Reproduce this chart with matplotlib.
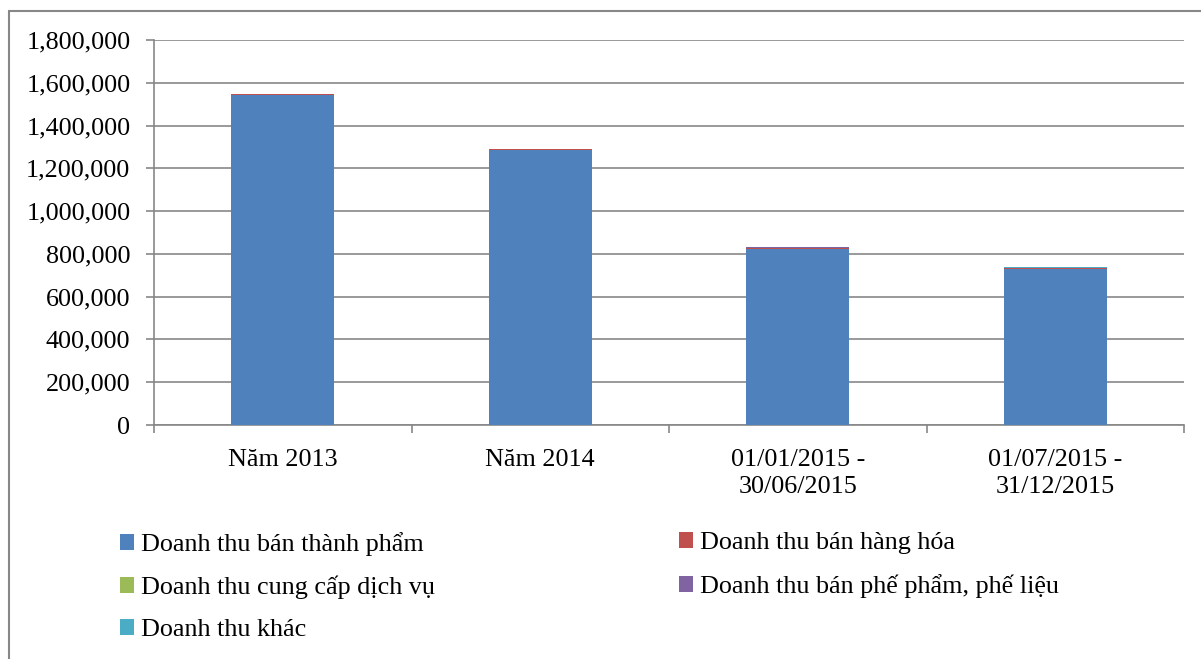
import matplotlib
matplotlib.use("Agg")
import matplotlib.pyplot as plt
import numpy as np
from matplotlib.patches import Patch, Rectangle
from matplotlib.ticker import FuncFormatter, FixedLocator

plt.rcParams['font.family'] = ['Liberation Serif', 'DejaVu Serif']

# data
categories = ["Năm 2013", "Năm 2014", "01/01/2015 -\n30/06/2015", "01/07/2015 -\n31/12/2015"]
series_names = ["Doanh thu bán thành phẩm", "Doanh thu bán hàng hóa",
                "Doanh thu cung cấp dịch vụ", "Doanh thu bán phế phẩm, phế liệu",
                "Doanh thu khác"]
thanh_pham = [1543000, 1286000, 824000, 731000]
hang_hoa = [4000, 3000, 2000, 2000]
dich_vu = [2000, 2000, 0, 0]
phe_pham = [0, 0, 4000, 1000]
khac = [0, 0, 0, 3000]
colors = ["#4F81BD", "#C0504D", "#9BBB59", "#8064A2", "#4BACC6"]

W, H = 1201, 659
fig = plt.figure(figsize=(W / 100, H / 100), dpi=100)
ax = fig.add_axes([154 / W, 1 - 425 / H, (1184 - 154) / W, (425 - 40) / H])

x = np.arange(len(categories))
bottom = np.zeros(len(categories))
handles = []
for vals, name, c in zip([thanh_pham, hang_hoa, dich_vu, phe_pham, khac], series_names, colors):
    ax.bar(x, vals, width=0.4, bottom=bottom, color=c, zorder=3)
    bottom += np.array(vals)
    handles.append(Patch(facecolor=c, label=name))

grey = "#878787"
ax.set_xlim(-0.5, len(categories) - 0.5)
ax.set_ylim(0, 1800000)
ax.set_yticks(np.arange(0, 1800001, 200000))
ax.yaxis.set_major_formatter(FuncFormatter(lambda v, p: f"{int(v):,}"))
ax.grid(axis='y', color=grey, linewidth=1.2, zorder=0)
ax.set_xticks(x)
ax.set_xticklabels(categories, linespacing=1.3)
ax.xaxis.set_minor_locator(FixedLocator(np.arange(-0.5, len(categories), 1.0)))
ax.tick_params(axis='x', which='major', length=0, pad=17, labelsize=18.8)
ax.tick_params(axis='x', which='minor', length=5.5, color=grey, width=1.2)
ax.tick_params(axis='y', length=5.5, color=grey, width=1.2, pad=11.5, labelsize=18.8)
for s in ['top', 'right']:
    ax.spines[s].set_visible(False)
for s in ['left', 'bottom']:
    ax.spines[s].set_color(grey)
    ax.spines[s].set_linewidth(1.2)

# legend in two columns
leg_kw = dict(frameon=False, fontsize=18.8, handlelength=0.55, handleheight=0.55,
              handletextpad=0.25, labelspacing=0.76, borderpad=0, borderaxespad=0)
fig.legend(handles=[handles[0], handles[2], handles[4]], loc='upper left',
           bbox_to_anchor=(120 / W, 1 - 532 / H), **leg_kw)
fig.legend(handles=[handles[1], handles[3]], loc='upper left',
           bbox_to_anchor=(679 / W, 1 - 532 / H), **leg_kw)

# outer chart border
fig.add_artist(Rectangle((8.5 / W, -0.1), 1.2, 1.1 - 10.5 / H, transform=fig.transFigure,
                         fill=False, edgecolor=grey, linewidth=1.5))

fig.savefig("out.png", dpi=100)
